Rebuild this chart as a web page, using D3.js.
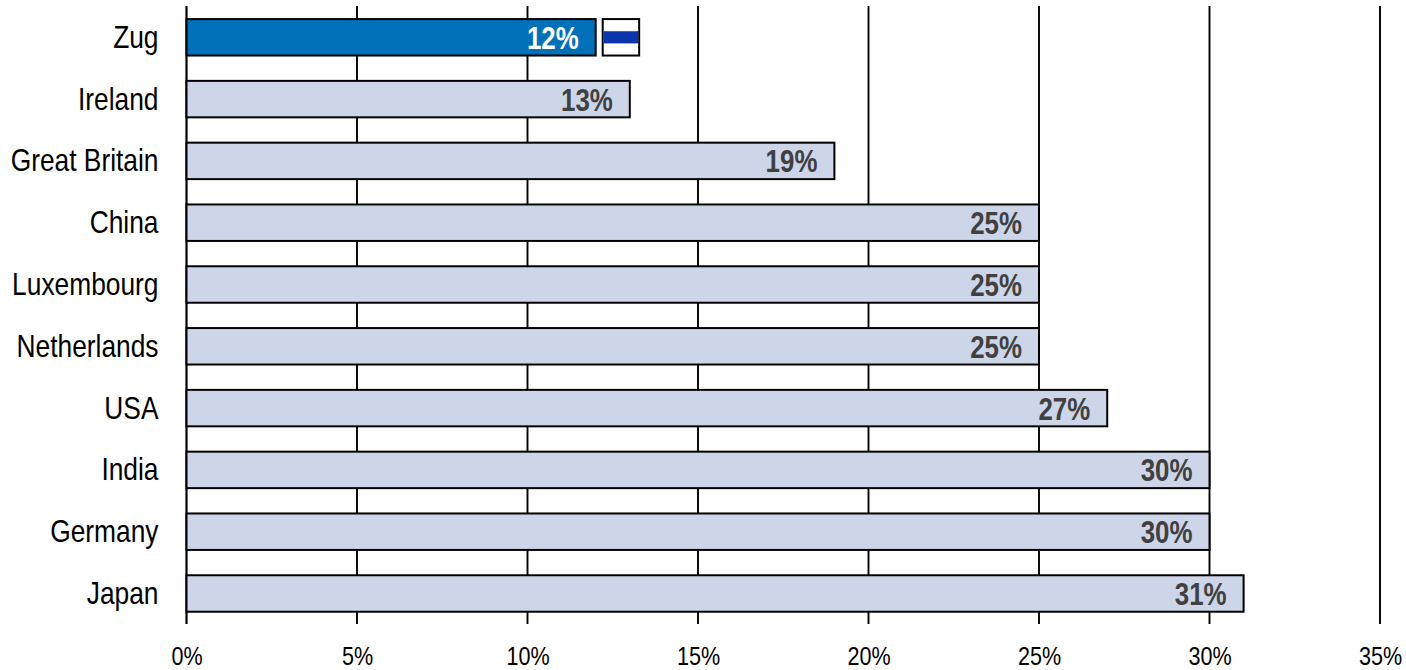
<!DOCTYPE html>
<html>
<head>
<meta charset="utf-8">
<script src="https://cdn.jsdelivr.net/npm/d3@7"></script>
<style>
  html, body { margin: 0; padding: 0; background: #fff; }
  svg { display: block; }
  text { font-family: "Liberation Sans", sans-serif; }
</style>
</head>
<body>
<svg></svg>
<script>
const regions = ['Zug', 'Ireland', 'Great Britain', 'China', 'Luxembourg', 'Netherlands', 'USA', 'India', 'Germany', 'Japan']
const taxRates = [12, 13, 19, 25, 25, 25, 27, 30, 30, 31]
const xTicks = [0, 5, 10, 15, 20, 25, 30, 35]
const highlighted = ['Zug']

const width = 1406
const height = 670
const margin = ({
  top: 6.4,
  right: 26,
  bottom: 45.6,
  left: 186.5
})
// the original type is a condensed Arial, so squeeze the text sideways
const squeezeRegion = 0.85
const squeezeValue = 0.835
const squeezeTick = 0.83

const x = d3.scaleLinear()
  .domain([0, 35])
  .range([margin.left, width - margin.right])

const y = d3.scaleBand()
  .domain(regions)
  .range([margin.top, height - margin.bottom])
  .paddingInner(0.41)
  .paddingOuter(0.205)

const svg = d3.select('svg')
  .attr('width', width)
  .attr('height', height)

// vertical grid lines sit behind the bars
svg.append('g')
  .selectAll('line')
  .data(xTicks)
  .enter().append('line')
  .attr('x1', d => x(d))
  .attr('x2', d => x(d))
  .attr('y1', 6)
  .attr('y2', 624)
  .attr('stroke', '#000')
  .attr('stroke-width', d => d === 0 ? 2.2 : 1.9)

// x axis labels
const xAxis = d3.axisBottom(x)
  .tickValues(xTicks)
  .tickFormat(d => d + '%')
  .tickSize(0)
  .tickPadding(22)

svg.append('g')
  .attr('transform', `translate(0,${height - margin.bottom})`)
  .call(xAxis)
  .call(g => g.select('.domain').remove())
  .call(g => g.selectAll('text')
    .attr('transform', `scale(${squeezeTick},1)`)
    .attr('font-size', 26)
    .attr('fill', '#000')
    .style('font-family', '"Liberation Sans", sans-serif'))

// y axis labels
const yAxis = d3.axisLeft(y)
  .tickSize(0)
  .tickPadding(28 / squeezeRegion)

svg.append('g')
  .attr('transform', `translate(${margin.left},0.6)`)
  .call(yAxis)
  .call(g => g.select('.domain').remove())
  .call(g => g.selectAll('text')
    .attr('transform', `scale(${squeezeRegion},1)`)
    .attr('font-size', 31)
    .attr('fill', '#000')
    .style('font-family', '"Liberation Sans", sans-serif'))

const rows = regions.map((region, i) => ({ region, rate: taxRates[i] }))

// bars
svg.append('g')
  .selectAll('rect')
  .data(rows)
  .enter().append('rect')
  .attr('x', x(0))
  .attr('y', d => y(d.region))
  .attr('width', d => x(d.rate) - x(0))
  .attr('height', y.bandwidth())
  .attr('fill', d => highlighted.includes(d.region) ? '#0070b8' : '#cdd5e8')
  .attr('stroke', '#000')
  .attr('stroke-width', 2)

// value labels inside the bars
svg.append('g')
  .selectAll('text')
  .data(rows)
  .enter().append('text')
  .attr('transform', d => `translate(${x(d.rate) - 17},${y(d.region) + y.bandwidth() / 2}) scale(${squeezeValue},1)`)
  .attr('dy', '0.37em')
  .attr('text-anchor', 'end')
  .attr('font-size', 31)
  .attr('font-weight', 'bold')
  .attr('fill', d => highlighted.includes(d.region) ? '#fff' : '#404040')
  .text(d => d.rate + '%')

// Zug flag next to its bar
const flag = svg.append('g')
  .attr('transform', `translate(${x(12) + 7},${y('Zug')})`)

flag.append('rect')
  .attr('width', y.bandwidth())
  .attr('height', y.bandwidth())
  .attr('fill', '#fff')
  .attr('stroke', '#000')
  .attr('stroke-width', 2)

flag.append('rect')
  .attr('x', 1)
  .attr('y', y.bandwidth() / 3)
  .attr('width', y.bandwidth() - 2)
  .attr('height', y.bandwidth() / 3)
  .attr('fill', '#0a35ad')
</script>
</body>
</html>
